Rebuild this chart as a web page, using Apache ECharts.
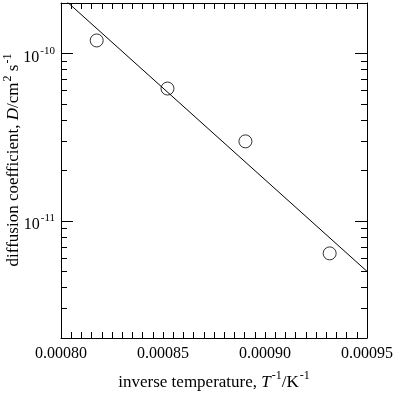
<!DOCTYPE html>
<html>
<head>
<meta charset="utf-8">
<script src="https://cdn.jsdelivr.net/npm/echarts@6/dist/echarts.min.js"></script>
<style>
html, body { margin: 0; padding: 0; background: #fff; }
#chart { width: 395px; height: 400px; }
</style>
</head>
<body>
<div id="chart"></div>
<script>
var invTemp = [0.0008175, 0.0008522, 0.0008904, 0.0009317];
var diffCoef = [1.195e-10, 6.17e-11, 2.985e-11, 6.40e-12];
var fitX = [0.00080, 0.00095];
var fitY = [2.19e-10, 5.0e-12];
var yMajorTicks = [1e-11, 1e-10];
var yMinorTicks = [3e-12, 4e-12, 5e-12, 6e-12, 7e-12, 8e-12, 9e-12,
  2e-11, 3e-11, 4e-11, 5e-11, 6e-11, 7e-11, 8e-11, 9e-11];

var font = 'Liberation Serif';
var black = '#000';
var chart = echarts.init(document.getElementById('chart'));

// superscript via padded rich tokens
function supRich(base, sup) {
  return {
    b: { fontFamily: font, fontSize: base, color: black, lineHeight: base, verticalAlign: 'bottom' },
    i: { fontFamily: font, fontSize: base, color: black, fontStyle: 'italic', lineHeight: base, verticalAlign: 'bottom' },
    s: { fontFamily: font, fontSize: sup, color: black, lineHeight: sup, padding: [0, 0, 9, 1], verticalAlign: 'bottom' }
  };
}

function xAxisOf(pos) {
  return {
    type: 'value',
    position: pos,
    min: 0.0008,
    max: 0.00095,
    interval: 0.00005,
    axisLine: { show: true, lineStyle: { color: black, width: 1 } },
    axisTick: { show: true, inside: true, length: 6, lineStyle: { color: black } },
    minorTick: { show: true, splitNumber: 10, length: 6, lineStyle: { color: black } },
    splitLine: { show: false },
    axisLabel: {
      show: pos === 'bottom',
      margin: 8,
      fontFamily: font,
      fontSize: 16,
      color: black,
      formatter: function(v) { return v.toFixed(5); }
    }
  };
}

function yAxisOf(pos, ticks, len, labels) {
  return {
    type: 'log',
    logBase: 10,
    position: pos,
    min: 2e-12,
    max: 2e-10,
    axisLine: { show: labels, lineStyle: { color: black, width: 1 } },
    axisTick: { show: true, inside: true, length: len, customValues: ticks, lineStyle: { color: black } },
    splitLine: { show: false },
    axisLabel: {
      show: labels && pos === 'left',
      customValues: yMajorTicks,
      margin: 6,
      padding: [8, 0, 0, 0],
      formatter: function(v) {
        return '{b|10}{s|' + Math.round(Math.log10(v)) + '}';
      },
      rich: supRich(16, 11)
    }
  };
}

var xBottom = xAxisOf('bottom');
xBottom.name = '{b|inverse temperature, }{i|T}{s|-1}{b|/K}{s|-1}';
xBottom.nameLocation = 'middle';
xBottom.nameGap = 36;
xBottom.nameTextStyle = { rich: supRich(17, 12) };

chart.setOption({
  animation: false,
  backgroundColor: '#fff',
  grid: { left: 61, right: 28, top: 3, bottom: 62, outerBoundsMode: 'none', containLabel: false },
  xAxis: [xBottom, xAxisOf('top')],
  yAxis: [
    yAxisOf('left', yMajorTicks, 12, true),
    yAxisOf('left', yMinorTicks, 6, false),
    yAxisOf('right', yMajorTicks, 12, true),
    yAxisOf('right', yMinorTicks, 6, false)
  ],
  // y title drawn as rotated text so it can sit off-centre like the original
  graphic: [{
    type: 'text',
    x: 14,
    y: 160,
    rotation: Math.PI / 2,
    style: {
      text: '{b|diffusion coefficient, }{i|D}{b|/cm}{s|2}{b| s}{s|-1}',
      rich: supRich(17, 12),
      align: 'center',
      verticalAlign: 'middle'
    }
  }],
  series: [
    {
      type: 'line',
      data: fitX.map(function(x, i) { return [x, fitY[i]]; }),
      showSymbol: false,
      symbol: 'none',
      clip: true,
      lineStyle: { color: black, width: 1 }
    },
    {
      type: 'scatter',
      data: invTemp.map(function(x, i) { return [x, diffCoef[i]]; }),
      symbol: 'circle',
      symbolSize: 13,
      itemStyle: { color: '#fff', borderColor: black, borderWidth: 1 }
    }
  ]
});
</script>
</body>
</html>
